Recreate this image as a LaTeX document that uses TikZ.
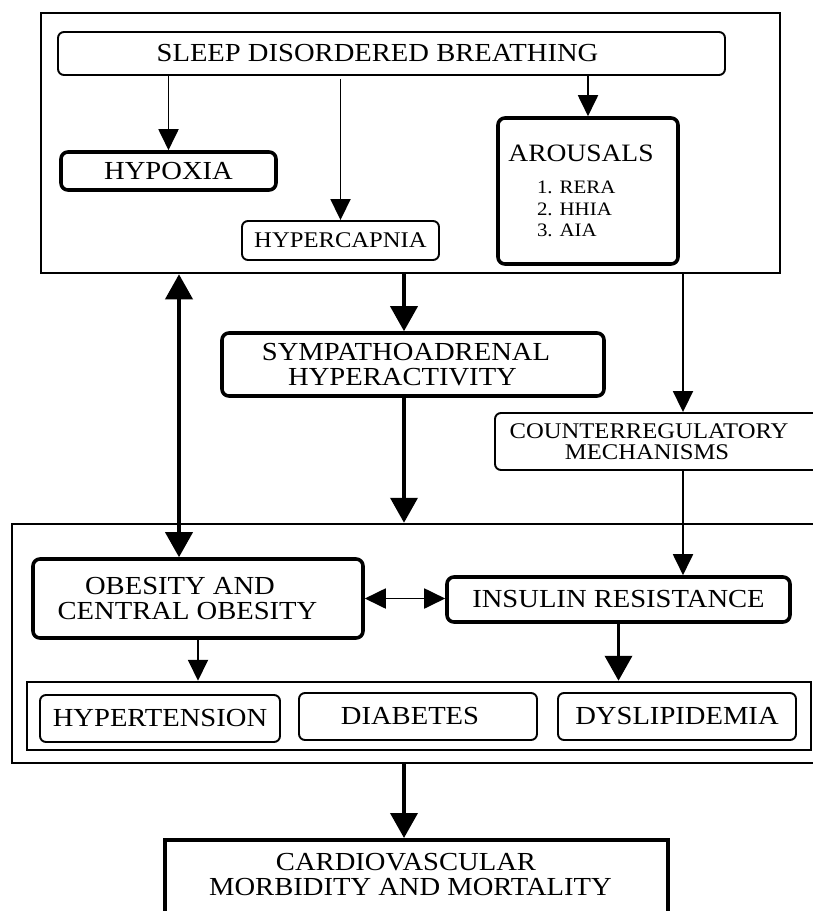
\documentclass[tikz,border=0pt]{standalone}
\usepackage{fontspec}
\setmainfont{Liberation Serif}[FakeStretch=1.1]
\usetikzlibrary{arrows.meta}

\begin{document}
\begin{tikzpicture}[x=1pt,y=-1pt]
  \tikzset{every node/.style={font=\fontsize{26}{25}\selectfont}}
  \tikzset{frame/.style={draw,line width=2.5pt,inner sep=0pt},
           box/.style={draw,rounded corners=6pt,line width=1.9pt,align=center,inner sep=0pt},
           boldbox/.style={box,rounded corners=7pt,line width=3.6pt},
           small/.style={font=\fontsize{22.4}{21}\selectfont},
           light/.style={line width=1.9pt,>={Triangle[width=20pt,length=21pt]}},
           heavy/.style={line width=3.8pt,>={Triangle[width=27pt,length=25pt]}}}

  \useasboundingbox (0,0) rectangle (813,911);
  \clip (0,0) rectangle (813,911);

  % outer frames
  \node[frame,minimum width=739pt,minimum height=260pt] (top) at (410.5,143) {};
  \node[frame,minimum width=818pt,minimum height=239pt] (risk) at (421,643.5) {};
  \node[frame,minimum width=784pt,minimum height=68pt] (row) at (419,716) {};

  % upper block
  \node[box,minimum width=667pt,minimum height=43pt] (sdb) at (391.5,53.5)
    {\hspace*{-28pt}SLEEP DISORDERED BREATHING};
  \node[boldbox,minimum width=215pt,minimum height=38pt] (hypoxia) at (168.5,171) {HYPOXIA};
  \node[box,small,minimum width=197pt,minimum height=39pt] (hypercapnia) at (340.5,240.5) {HYPERCAPNIA};
  \node[boldbox,font=\fontsize{19}{21.5}\selectfont,minimum width=180pt,minimum height=146pt]
    (arousals) at (588,191)
    {{\fontsize{25}{25}\selectfont\hspace*{-14pt}AROUSALS}\\[11pt]
     \makebox[102pt][l]{1. RERA}\\
     \makebox[102pt][l]{2. HHIA}\\
     \makebox[102pt][l]{3. AIA}};

  % middle
  \node[boldbox,minimum width=382pt,minimum height=63pt] (sym) at (413,364.5)
    {\hspace*{-14pt}SYMPATHOADRENAL\\\hspace*{-21pt}HYPERACTIVITY};
  \node[box,small,minimum width=335pt,minimum height=57pt] (counter) at (662.5,441.5)
    {\hspace*{-27pt}COUNTERREGULATORY\\\hspace*{-31pt}MECHANISMS};

  % lower block
  \node[boldbox,minimum width=330pt,minimum height=79pt] (obesity) at (198,598.5)
    {\hspace*{-36pt}OBESITY AND\\\hspace*{-21pt}CENTRAL OBESITY};
  \node[boldbox,minimum width=343pt,minimum height=45pt] (insulin) at (618.5,599.5) {INSULIN RESISTANCE};
  \node[box,minimum width=240pt,minimum height=47pt] (hypertension) at (160,718.5) {HYPERTENSION};
  \node[box,minimum width=238pt,minimum height=47pt] (diabetes) at (418,716.5) {\hspace*{-16pt}DIABETES};
  \node[box,minimum width=238pt,minimum height=47pt] (dyslipidemia) at (677,716.5) {DYSLIPIDEMIA};

  \node[frame,line width=4pt,align=center,anchor=north,minimum width=503pt,inner ysep=13pt,text depth=60pt]
    (cvd) at (416.5,838)
    {\hspace*{-21pt}CARDIOVASCULAR\\\hspace*{-12pt}MORBIDITY AND MORTALITY};

  \coordinate (lline) at (179,0);
  \coordinate (mline) at (404,0);
  \coordinate (rline) at (683,0);

  % connectors
  \path[light,->] (sdb.south -| hypoxia.north) edge (hypoxia.north)
        (sdb.south -| hypercapnia.north) edge[shorten <=3pt] (hypercapnia.north)
        (sdb.south -| arousals.north) edge (arousals.north)
        (top.south -| rline) edge (counter.north -| rline)
        (counter.south -| rline) edge (insulin.north -| rline)
        (obesity.south) edge (row.north -| obesity.south);
  \path[light,<->] (obesity.east) edge (obesity.east -| insulin.west);

  \path[heavy,->] (top.south -| mline) edge (sym.north -| mline)
        (sym.south -| mline) edge (risk.north -| mline)
        (insulin.south) edge (row.north -| insulin.south)
        (risk.south -| mline) edge (cvd.north -| mline);
  \path[heavy,<->] (top.south -| lline) edge (obesity.north -| lline);
\end{tikzpicture}
\end{document}
